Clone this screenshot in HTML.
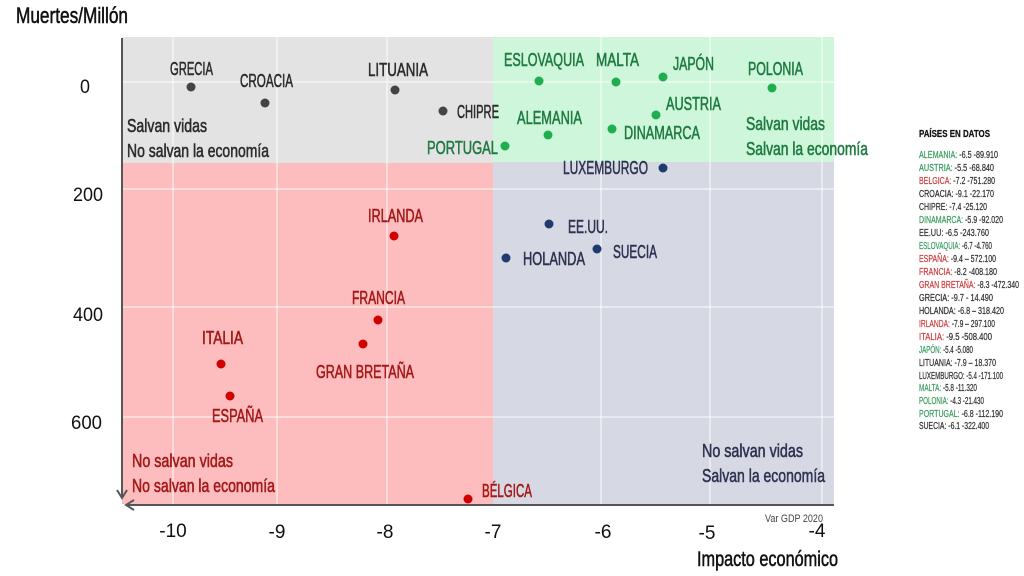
<!DOCTYPE html>
<html><head><meta charset="utf-8"><style>
html,body{margin:0;padding:0;background:#fff;}
svg{display:block;}
.l{font-family:"Liberation Sans Narrow","Liberation Sans",sans-serif;font-size:18px;stroke-width:0.55px;}
.t{font-family:"Liberation Sans",sans-serif;font-size:19px;fill:#111;}
.g{fill:#2b2b2b;stroke:#2b2b2b}.gr{fill:#1f7a42;stroke:#1f7a42}.r{fill:#a31818;stroke:#a31818}.n{fill:#2d3350;stroke:#2d3350}
.lg{font-family:"Liberation Sans Narrow","Liberation Sans",sans-serif;font-size:10px;fill:#333;stroke:#333;stroke-width:0.25px;}
.lgn{fill:#3d9d62;stroke:#3d9d62}.lgr{fill:#c94444;stroke:#c94444}
</style></head><body>
<svg width="1024" height="576" viewBox="0 0 1024 576" xmlns="http://www.w3.org/2000/svg">
<rect width="1024" height="576" fill="#fff"/>
<!-- quadrants -->
<rect x="122" y="37" width="371" height="126" fill="#e3e3e3"/>
<rect x="493" y="37" width="341" height="125" fill="#cdf6da"/>
<rect x="122" y="163" width="371" height="341" fill="#fdbdbe"/>
<rect x="493" y="162" width="341" height="342" fill="#d6d9e3"/>
<!-- gridlines -->
<g stroke="#fff" stroke-opacity="0.6" stroke-width="1.5">
<line x1="173" y1="37" x2="173" y2="504"/>
<line x1="277" y1="37" x2="277" y2="504"/>
<line x1="387" y1="37" x2="387" y2="504"/>
<line x1="601" y1="37" x2="601" y2="504"/>
<line x1="710" y1="37" x2="710" y2="504"/>
<line x1="822" y1="37" x2="822" y2="504"/>
<line x1="122" y1="82" x2="834" y2="82"/>
<line x1="122" y1="189" x2="834" y2="189"/>
<line x1="122" y1="307" x2="834" y2="307"/>
<line x1="122" y1="417" x2="834" y2="417"/>
</g>
<!-- axes -->
<g stroke="#555" stroke-width="2" fill="none">
<line x1="122" y1="38" x2="122" y2="498"/>
<polyline points="117,490 122,498 127,490"/>
<line x1="126" y1="505" x2="834" y2="505"/>
<polyline points="134,500 126,505 134,510"/>
</g>
<!-- titles -->
<text x="16" y="23" class="l" style="font-size:22px;fill:#111;stroke:#111" textLength="112" lengthAdjust="spacingAndGlyphs">Muertes/Millón</text>
<text x="697" y="566" class="l" style="font-size:21px;fill:#111;stroke:#111" textLength="141" lengthAdjust="spacingAndGlyphs">Impacto económico</text>
<text x="765" y="522" class="l" style="font-size:11px;fill:#444;stroke:none" textLength="58" lengthAdjust="spacingAndGlyphs">Var GDP 2020</text>
<!-- y ticks -->
<text class="t" x="80" y="93" textLength="10" lengthAdjust="spacingAndGlyphs">0</text>
<text class="t" x="73" y="201" textLength="30" lengthAdjust="spacingAndGlyphs">200</text>
<text class="t" x="73" y="321" textLength="30" lengthAdjust="spacingAndGlyphs">400</text>
<text class="t" x="71" y="429" textLength="31" lengthAdjust="spacingAndGlyphs">600</text>
<!-- x ticks -->
<g class="t" text-anchor="middle">
<text x="173" y="537">-10</text>
<text x="277" y="538">-9</text>
<text x="385" y="538">-8</text>
<text x="493" y="538">-7</text>
<text x="603" y="538">-6</text>
<text x="707" y="539">-5</text>
<text x="817" y="537">-4</text>
</g>
<!-- quadrant captions -->
<text class="l g" x="127" y="132" textLength="80" lengthAdjust="spacingAndGlyphs">Salvan vidas</text>
<text class="l g" x="127" y="157" textLength="142" lengthAdjust="spacingAndGlyphs">No salvan la economía</text>
<text class="l gr" x="746" y="130" textLength="79" lengthAdjust="spacingAndGlyphs">Salvan vidas</text>
<text class="l gr" x="746" y="155" textLength="122" lengthAdjust="spacingAndGlyphs">Salvan la economía</text>
<text class="l r" x="132" y="467" textLength="101" lengthAdjust="spacingAndGlyphs">No salvan vidas</text>
<text class="l r" x="132" y="492" textLength="143" lengthAdjust="spacingAndGlyphs">No salvan la economía</text>
<text class="l n" x="702" y="457" textLength="101" lengthAdjust="spacingAndGlyphs">No salvan vidas</text>
<text class="l n" x="702" y="482" textLength="123" lengthAdjust="spacingAndGlyphs">Salvan la economía</text>
<!-- dots -->
<g fill="#444">
<circle cx="191" cy="87" r="4.5"/><circle cx="265" cy="103" r="4.5"/>
<circle cx="395" cy="90" r="4.5"/><circle cx="443" cy="111" r="4.5"/>
</g>
<g fill="#1fae4e">
<circle cx="505" cy="146" r="4.5"/><circle cx="539" cy="81" r="4.5"/>
<circle cx="616" cy="82" r="4.5"/><circle cx="663" cy="77" r="4.5"/>
<circle cx="772" cy="88" r="4.5"/><circle cx="656" cy="115" r="4.5"/>
<circle cx="548" cy="135" r="4.5"/><circle cx="612" cy="129" r="4.5"/>
</g>
<g fill="#d00000">
<circle cx="394" cy="236" r="4.5"/><circle cx="378" cy="320" r="4.5"/>
<circle cx="363" cy="344" r="4.5"/><circle cx="221" cy="364" r="4.5"/>
<circle cx="230" cy="396" r="4.5"/><circle cx="468" cy="499" r="4.5"/>
</g>
<g fill="#1f3a6e">
<circle cx="663" cy="168" r="4.5"/><circle cx="549" cy="224" r="4.5"/>
<circle cx="506" cy="258" r="4.5"/><circle cx="597" cy="249" r="4.5"/>
</g>
<!-- labels -->
<text class="l g" x="170" y="75" textLength="43" lengthAdjust="spacingAndGlyphs">GRECIA</text>
<text class="l g" x="240" y="87" textLength="53" lengthAdjust="spacingAndGlyphs">CROACIA</text>
<text class="l g" x="368" y="76" textLength="60" lengthAdjust="spacingAndGlyphs">LITUANIA</text>
<text class="l g" x="457" y="118" textLength="42" lengthAdjust="spacingAndGlyphs">CHIPRE</text>
<text class="l gr" x="427" y="154" textLength="71" lengthAdjust="spacingAndGlyphs">PORTUGAL</text>
<text class="l gr" x="504" y="66" textLength="80" lengthAdjust="spacingAndGlyphs">ESLOVAQUIA</text>
<text class="l gr" x="596" y="66" textLength="43" lengthAdjust="spacingAndGlyphs">MALTA</text>
<text class="l gr" x="673" y="70" textLength="41" lengthAdjust="spacingAndGlyphs">JAPÓN</text>
<text class="l gr" x="748" y="75" textLength="55" lengthAdjust="spacingAndGlyphs">POLONIA</text>
<text class="l gr" x="666" y="110" textLength="55" lengthAdjust="spacingAndGlyphs">AUSTRIA</text>
<text class="l gr" x="517" y="124" textLength="65" lengthAdjust="spacingAndGlyphs">ALEMANIA</text>
<text class="l gr" x="624" y="139" textLength="76" lengthAdjust="spacingAndGlyphs">DINAMARCA</text>
<text class="l n" x="563" y="174" textLength="85" lengthAdjust="spacingAndGlyphs">LUXEMBURGO</text>
<text class="l n" x="568" y="233" textLength="40" lengthAdjust="spacingAndGlyphs">EE.UU.</text>
<text class="l n" x="523" y="265" textLength="62" lengthAdjust="spacingAndGlyphs">HOLANDA</text>
<text class="l n" x="613" y="258" textLength="44" lengthAdjust="spacingAndGlyphs">SUECIA</text>
<text class="l r" x="368" y="222" textLength="55" lengthAdjust="spacingAndGlyphs">IRLANDA</text>
<text class="l r" x="352" y="304" textLength="53" lengthAdjust="spacingAndGlyphs">FRANCIA</text>
<text class="l r" x="316" y="378" textLength="98" lengthAdjust="spacingAndGlyphs">GRAN BRETAÑA</text>
<text class="l r" x="202" y="344" textLength="41" lengthAdjust="spacingAndGlyphs">ITALIA</text>
<text class="l r" x="212" y="422" textLength="51" lengthAdjust="spacingAndGlyphs">ESPAÑA</text>
<text class="l r" x="482" y="497" textLength="50" lengthAdjust="spacingAndGlyphs">BÉLGICA</text>
<!-- legend -->
<text class="lg" x="919" y="137" style="font-weight:bold;font-size:10.5px;fill:#111;stroke:#111" textLength="71" lengthAdjust="spacingAndGlyphs">PAÍSES EN DATOS</text>
<g class="lg">
<text x="919" y="158" textLength="79" lengthAdjust="spacingAndGlyphs"><tspan class="lgn">ALEMANIA:</tspan> -6.5 -89.910</text>
<text x="919" y="171" textLength="75" lengthAdjust="spacingAndGlyphs"><tspan class="lgn">AUSTRIA:</tspan> -5.5 -68.840</text>
<text x="919" y="184" textLength="76" lengthAdjust="spacingAndGlyphs"><tspan class="lgr">BELGICA:</tspan> -7.2 -751.280</text>
<text x="919" y="197" textLength="75" lengthAdjust="spacingAndGlyphs">CROACIA: -9.1  -22.170</text>
<text x="919" y="210" textLength="68" lengthAdjust="spacingAndGlyphs">CHIPRE: -7.4 -25.120</text>
<text x="919" y="223" textLength="84" lengthAdjust="spacingAndGlyphs"><tspan class="lgn">DINAMARCA:</tspan> -5.9 -92.020</text>
<text x="919" y="236" textLength="70" lengthAdjust="spacingAndGlyphs">EE.UU: -6.5 -243.760</text>
<text x="919" y="249" textLength="73" lengthAdjust="spacingAndGlyphs"><tspan class="lgn">ESLOVAQUIA:</tspan> -6.7 -4.760</text>
<text x="919" y="262" textLength="77" lengthAdjust="spacingAndGlyphs"><tspan class="lgr">ESPAÑA:</tspan> -9.4 – 572.100</text>
<text x="919" y="275" textLength="78" lengthAdjust="spacingAndGlyphs"><tspan class="lgr">FRANCIA:</tspan> -8.2 -408.180</text>
<text x="919" y="288" textLength="100" lengthAdjust="spacingAndGlyphs"><tspan class="lgr">GRAN BRETAÑA:</tspan> -8.3 -472.340</text>
<text x="919" y="301" textLength="74" lengthAdjust="spacingAndGlyphs">GRECIA: -9.7  -  14.490</text>
<text x="919" y="314" textLength="85" lengthAdjust="spacingAndGlyphs">HOLANDA: -6.8 – 318.420</text>
<text x="919" y="327" textLength="76" lengthAdjust="spacingAndGlyphs"><tspan class="lgr">IRLANDA:</tspan> -7.9 – 297.100</text>
<text x="919" y="340" textLength="73" lengthAdjust="spacingAndGlyphs"><tspan class="lgr">ITALIA:</tspan> -9.5  -508.400</text>
<text x="919" y="353" textLength="54" lengthAdjust="spacingAndGlyphs"><tspan class="lgn">JAPÓN:</tspan> -5.4 -5.080</text>
<text x="919" y="366" textLength="77" lengthAdjust="spacingAndGlyphs">LITUANIA: -7.9 – 18.370</text>
<text x="919" y="379" textLength="84" lengthAdjust="spacingAndGlyphs">LUXEMBURGO: -5.4 -171.100</text>
<text x="919" y="391" textLength="58" lengthAdjust="spacingAndGlyphs"><tspan class="lgn">MALTA:</tspan> -5.8 -11.320</text>
<text x="919" y="404" textLength="65" lengthAdjust="spacingAndGlyphs"><tspan class="lgn">POLONIA:</tspan> -4.3 -21.430</text>
<text x="919" y="417" textLength="84" lengthAdjust="spacingAndGlyphs"><tspan class="lgn">PORTUGAL:</tspan> -6.8 -112.190</text>
<text x="919" y="429" textLength="70" lengthAdjust="spacingAndGlyphs">SUECIA: -6.1 -322.400</text>
</g>
</svg>
</body></html>
